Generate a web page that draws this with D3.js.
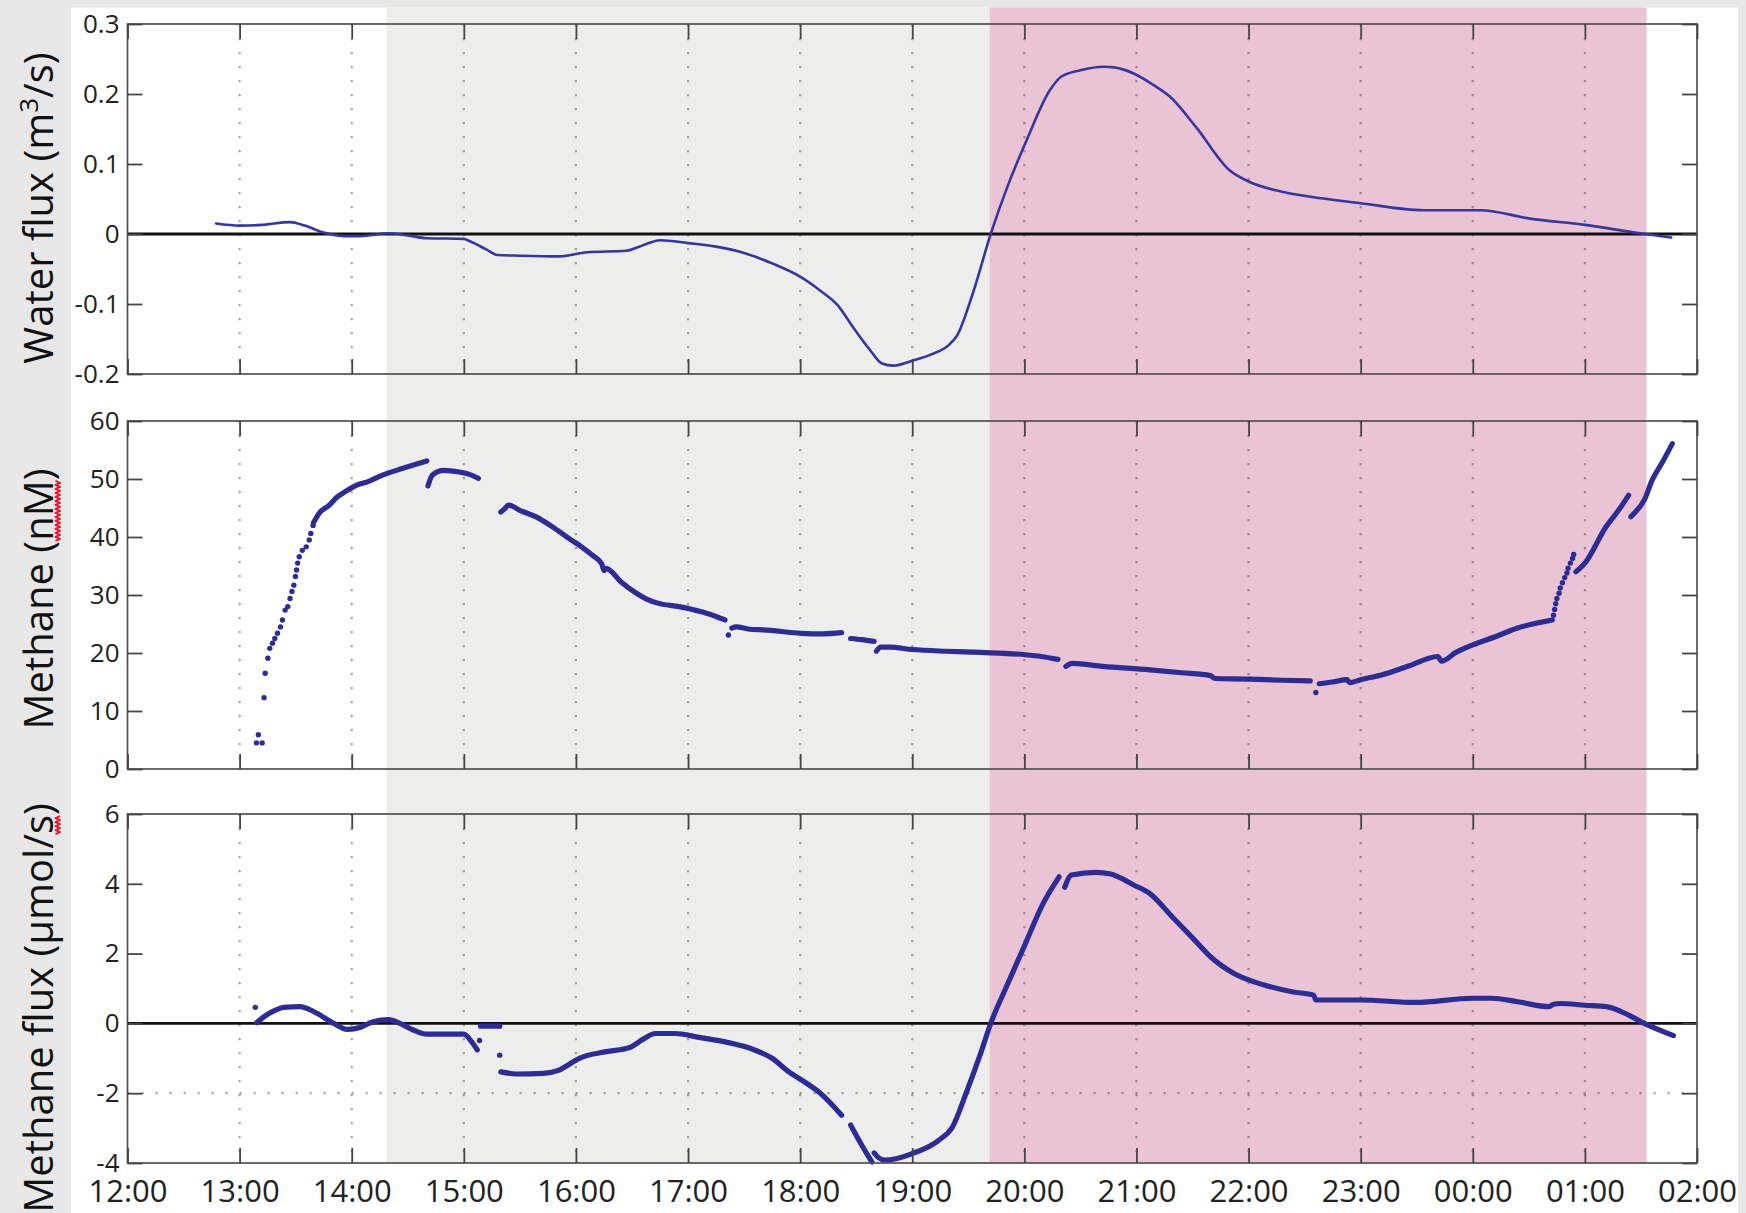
<!DOCTYPE html>
<html>
<head>
<meta charset="utf-8">
<script src="https://cdn.jsdelivr.net/npm/d3@7"></script>
<style>
  html, body { margin: 0; padding: 0; background: #e7e7e7; }
  svg { display: block; font-family: "Open Sans", "Noto Sans", sans-serif; }
</style>
</head>
<body>
<svg id="chart" width="1746" height="1213"></svg>
<script>
// ---- time axis (clock hours, continuing past midnight: 25 = 01:00) ----
const hourTicks  = [12, 13, 14, 15, 16, 17, 18, 19, 20, 21, 22, 23, 24, 25, 26];
const hourLabels = ["12:00", "13:00", "14:00", "15:00", "16:00", "17:00", "18:00", "19:00",
                    "20:00", "21:00", "22:00", "23:00", "00:00", "01:00", "02:00"];

// ---- shaded tidal phases ----
const phaseStart = [14.31, 19.69];
const phaseEnd   = [19.69, 25.55];

// ---- y ticks ----
const waterTicks   = [-0.2, -0.1, 0, 0.1, 0.2, 0.3];
const waterLabels  = ["-0.2", "-0.1", "0", "0.1", "0.2", "0.3"];
const methaneTicks  = [0, 10, 20, 30, 40, 50, 60];
const methaneLabels = ["0", "10", "20", "30", "40", "50", "60"];
const fluxTicks  = [-4, -2, 0, 2, 4, 6];
const fluxLabels = ["-4", "-2", "0", "2", "4", "6"];

// ---- water flux (m3/s) ----
const waterTime = [12.79, 13.00, 13.20, 13.45, 13.58, 13.75, 13.93, 14.08, 14.33, 14.50, 14.67, 15.00,
  15.05, 15.20, 15.30, 15.50, 15.85, 16.10, 16.45, 16.55, 16.65, 16.75, 17.00, 17.25, 17.50, 17.75,
  18.00, 18.18, 18.33, 18.48, 18.62, 18.73, 18.83, 19.00, 19.17, 19.33, 19.40, 19.54, 19.70, 19.85,
  20.02, 20.23, 20.33, 20.50, 20.71, 20.80, 20.98, 21.15, 21.30, 21.53, 21.83, 22.00, 22.31, 22.65,
  23.00, 23.56, 24.07, 24.51, 25.00, 25.49, 25.77];
const waterFlux = [0.015, 0.012, 0.013, 0.017, 0.012, 0.002, -0.003, -0.003, 0.001, -0.002, -0.006, -0.007,
  -0.010, -0.022, -0.030, -0.031, -0.032, -0.026, -0.024, -0.019, -0.013, -0.009, -0.013, -0.018, -0.027, -0.042,
  -0.061, -0.081, -0.101, -0.135, -0.165, -0.185, -0.188, -0.181, -0.172, -0.158, -0.145, -0.085, 0.0, 0.068,
  0.134, 0.206, 0.225, 0.234, 0.239, 0.238, 0.229, 0.213, 0.196, 0.153, 0.091, 0.075, 0.060, 0.051,
  0.044, 0.034, 0.034, 0.022, 0.013, 0.001, -0.005];

// ---- methane concentration (nM): continuous runs, null = gap ----
const methaneTime = [
  13.66, 13.71, 13.80, 13.87, 13.94, 14.04, 14.14, 14.28, 14.45, 14.55, 14.67, null,
  14.68, 14.72, 14.82, 14.96, 15.05, 15.13, null,
  15.33, 15.36, 15.40, 15.50, 15.64, 15.81, 15.95, 16.05, 16.15, 16.23, 16.25, 16.27, 16.40, 16.54,
  16.63, 16.73, 16.92, 17.12, 17.25, 17.33, null,
  17.39, 17.43, 17.55, 17.67, 18.01, 18.20, 18.37, null,
  18.45, 18.55, 18.66, null,
  18.68, 18.72, 18.80, 19.00, 19.30, 19.61, 20.01, 20.15, 20.30, null,
  20.37, 20.43, 20.70, 21.12, 21.40, 21.66, 21.70, 22.01, 22.30, 22.55, null,
  22.63, 22.75, 22.88, 22.90, 23.00, 23.20, 23.42, 23.69, 23.72, 23.85, 24.00, 24.20, 24.40, 24.71, null,
  24.92, 25.00, 25.19, 25.30, 25.39, null,
  25.41, 25.45, 25.53, 25.60, 25.70, 25.78];
const methaneConc = [
  42.5, 44.1, 45.5, 46.9, 47.8, 48.9, 49.5, 50.7, 51.8, 52.4, 53.1, null,
  48.8, 50.7, 51.5, 51.2, 50.8, 50.1, null,
  44.3, 44.8, 45.5, 44.6, 43.5, 41.5, 39.6, 38.3, 36.8, 35.4, 34.2, 34.6, 32.3, 30.3,
  29.3, 28.6, 28.0, 27.1, 26.3, 25.7, null,
  24.3, 24.5, 24.1, 24.0, 23.4, 23.3, 23.5, null,
  22.5, 22.3, 22.0, null,
  20.3, 21.0, 21.0, 20.6, 20.3, 20.1, 19.7, 19.4, 18.9, null,
  17.7, 18.2, 17.7, 17.1, 16.6, 16.1, 15.6, 15.5, 15.3, 15.2, null,
  14.7, 15.0, 15.4, 14.9, 15.4, 16.3, 17.7, 19.4, 18.6, 20.1, 21.4, 22.8, 24.3, 25.7, null,
  34.0, 35.5, 41.8, 44.6, 47.2, null,
  43.5, 44.3, 46.4, 49.8, 53.2, 56.1];
// sparse samples drawn as single dots
const methaneDotTime = [13.150, 13.167, 13.201, 13.218, 13.228, 13.252, 13.269, 13.293, 13.314, 13.338,
  13.365, 13.382, 13.406, 13.430, 13.450, 13.467, 13.484, 13.498, 13.508, 13.518, 13.532, 13.559,
  13.594, 13.621, 13.635, 13.655, 17.36, 22.60,
  24.72, 24.73, 24.74, 24.75, 24.77, 24.78, 24.80, 24.82, 24.84, 24.85, 24.87, 24.89, 24.90];
const methaneDotConc = [4.5, 5.9, 4.5, 12.3, 16.5, 19.1, 20.8, 21.7, 22.5, 23.4,
  24.5, 25.7, 27.4, 28.0, 29.4, 30.6, 31.7, 33.2, 34.3, 35.5, 36.6, 37.7,
  38.3, 39.5, 40.6, 42.0, 23.1, 13.2,
  26.5, 27.5, 28.5, 29.4, 30.3, 31.2, 32.1, 33.0, 33.8, 34.6, 35.5, 36.3, 37.0];

// ---- methane flux (umol/s): continuous runs, null = gap ----
const fluxTime = [
  13.15, 13.24, 13.32, 13.39, 13.54, 13.62, 13.69, 13.84, 13.96, 14.08, 14.19, 14.33, 14.43, 14.55,
  14.67, 15.00, 15.07, 15.12, null,
  15.15, 15.32, null,
  15.33, 15.47, 15.71, 15.85, 15.90, 16.03, 16.27, 16.48, 16.60, 16.71, 16.88, 17.10, 17.36, 17.56,
  17.75, 17.90, 18.05, 18.18, 18.37, null,
  18.45, 18.55, 18.64, null,
  18.66, 18.70, 18.76, 19.00, 19.24, 19.36, 19.48, 19.61, 19.70, 19.84, 20.01, 20.16, 20.31, null,
  20.36, 20.42, 20.64, 20.77, 20.98, 21.12, 21.32, 21.50, 21.66, 21.87, 22.14, 22.40, 22.58, 22.60,
  23.00, 23.49, 24.00, 24.17, 24.40, 24.68, 24.72, 24.78, 25.00, 25.19, 25.39, 25.53, 25.79];
const fluxValue = [
  0.02, 0.24, 0.38, 0.46, 0.48, 0.40, 0.29, 0.00, -0.17, -0.11, 0.05, 0.11, 0.00, -0.19,
  -0.31, -0.31, -0.53, -0.76, null,
  -0.08, -0.08, null,
  -1.39, -1.45, -1.43, -1.34, -1.25, -1.00, -0.81, -0.69, -0.45, -0.29, -0.29, -0.40, -0.55, -0.72,
  -1.00, -1.39, -1.70, -2.00, -2.63, null,
  -2.91, -3.49, -3.97, null,
  -3.71, -3.85, -3.92, -3.73, -3.34, -2.96, -2.00, -0.86, 0.00, 1.05, 2.29, 3.39, 4.20, null,
  3.90, 4.25, 4.33, 4.28, 3.96, 3.72, 3.05, 2.45, 1.91, 1.43, 1.10, 0.90, 0.81, 0.67,
  0.67, 0.60, 0.72, 0.72, 0.62, 0.48, 0.55, 0.57, 0.52, 0.48, 0.24, 0.00, -0.35];
const fluxDotTime  = [13.14, 15.14, 15.32];
const fluxDotValue = [0.46, -0.49, -0.91];

// ------------------------------------------------------------------
const svg = d3.select("#chart");
const W = 1746, H = 1213;
const INK = "#2c2c92";

svg.append("rect").attr("width", W).attr("height", H).attr("fill", "#e7e7e7");
svg.append("rect").attr("x", 71).attr("y", 7.5).attr("width", 1738 - 71).attr("height", H - 7.5)
  .attr("fill", "#ffffff");

const x = d3.scaleLinear().domain([12, 26]).range([127.5, 1697]);
const plotTop = 7.5, plotBottom = 1163;

// tidal phase shading behind all three panels
const phaseFill = ["#edeeec", "#eac4d5"];
svg.append("g").selectAll("rect")
  .data(phaseStart.map((s, i) => ({ s, e: phaseEnd[i], fill: phaseFill[i] })))
  .join("rect")
  .attr("x", d => x(d.s)).attr("width", d => x(d.e) - x(d.s))
  .attr("y", plotTop).attr("height", plotBottom - plotTop)
  .attr("fill", d => d.fill);

const zip = (t, v) => t.map((d, i) => [d, v[i]]);

const panels = [
  { top: 24, bottom: 374, domain: [-0.2, 0.3], ticks: waterTicks, labels: waterLabels, zero: true,
    hgrid: [], titleY: 208 },
  { top: 421, bottom: 769, domain: [0, 60], ticks: methaneTicks, labels: methaneLabels, zero: false,
    hgrid: [], titleY: 599 },
  { top: 814, bottom: 1163, domain: [-4, 6], ticks: fluxTicks, labels: fluxLabels, zero: true,
    hgrid: [-2], titleY: 1008 }
];
panels.forEach(p => { p.y = d3.scaleLinear().domain(p.domain).range([p.bottom, p.top]); });

const gridHours = hourTicks.slice(1, -1);

panels.forEach((p, pi) => {
  const g = svg.append("g");
  // dotted grid
  g.selectAll(".vg").data(gridHours).join("line")
    .attr("x1", d => x(d)).attr("x2", d => x(d))
    .attr("y1", p.top).attr("y2", p.bottom)
    .attr("stroke", "rgba(40,40,40,0.42)").attr("stroke-width", 2.2)
    .attr("stroke-dasharray", "2.2 11.8");
  g.selectAll(".hg").data(p.hgrid).join("line")
    .attr("x1", x.range()[0]).attr("x2", x.range()[1])
    .attr("y1", d => p.y(d)).attr("y2", d => p.y(d))
    .attr("stroke", "rgba(40,40,40,0.42)").attr("stroke-width", 2.2)
    .attr("stroke-dasharray", "2.2 11.8");
  if (p.zero) {
    g.append("line")
      .attr("x1", x.range()[0]).attr("x2", x.range()[1])
      .attr("y1", p.y(0)).attr("y2", p.y(0))
      .attr("stroke", "#111").attr("stroke-width", 2.8);
  }
  p.g = g;
});

// panel 1: water flux line
{
  const p = panels[0];
  const line = d3.line().x(d => x(d[0])).y(d => p.y(d[1])).curve(d3.curveMonotoneX);
  p.g.append("path").attr("d", line(zip(waterTime, waterFlux)))
    .attr("fill", "none").attr("stroke", "#36369c").attr("stroke-width", 2.6)
    .attr("stroke-linejoin", "round").attr("stroke-linecap", "round");
}

// dense sample runs are drawn as thick rounded strokes, sparse samples as dots
function drawSamples(p, t, v, dt, dv) {
  const line = d3.line().defined(d => d[1] != null)
    .x(d => x(d[0])).y(d => p.y(d[1])).curve(d3.curveMonotoneX);
  p.g.append("path").attr("d", line(zip(t, v)))
    .attr("fill", "none").attr("stroke", INK).attr("stroke-width", 5.2)
    .attr("stroke-linejoin", "round").attr("stroke-linecap", "round");
  p.g.selectAll("circle").data(zip(dt, dv)).join("circle")
    .attr("cx", d => x(d[0])).attr("cy", d => p.y(d[1])).attr("r", 2.7)
    .attr("fill", INK);
}
drawSamples(panels[1], methaneTime, methaneConc, methaneDotTime, methaneDotConc);
drawSamples(panels[2], fluxTime, fluxValue, fluxDotTime, fluxDotValue);

// frames and axes
panels.forEach((p, pi) => {
  const g = svg.append("g");
  const [x0, x1] = x.range();
  g.append("rect").attr("x", x0).attr("y", p.top).attr("width", x1 - x0).attr("height", p.bottom - p.top)
    .attr("fill", "none").attr("stroke", "#505050").attr("stroke-width", 1.7);

  const style = sel => {
    sel.select(".domain").remove();
    sel.attr("font-family", null).attr("color", "#444");
    sel.selectAll(".tick line").attr("stroke-width", 1.8);
    sel.selectAll(".tick text").attr("fill", "#222");
  };

  g.append("g").attr("transform", `translate(${x0},0)`)
    .call(d3.axisLeft(p.y).tickValues(p.ticks).tickFormat((d, i) => p.labels[i]).tickSize(-15).tickPadding(8))
    .call(style).attr("font-size", 26);
  g.append("g").attr("transform", `translate(${x1},0)`)
    .call(d3.axisRight(p.y).tickValues(p.ticks).tickFormat("").tickSize(-15))
    .call(style);
  g.append("g").attr("transform", `translate(0,${p.top})`)
    .call(d3.axisTop(x).tickValues(hourTicks).tickFormat("").tickSize(-15))
    .call(style);
  const bottomAxis = d3.axisBottom(x).tickValues(hourTicks).tickSize(-15)
    .tickFormat(pi === 2 ? (d, i) => hourLabels[i] : "").tickPadding(17);
  g.append("g").attr("transform", `translate(0,${p.bottom})`)
    .call(bottomAxis).call(style).attr("font-size", 31);
});

// y-axis titles
{
  const g = svg.append("g").attr("transform", `translate(53,${panels[0].titleY}) rotate(-90)`);
  const t = g.append("text").attr("text-anchor", "middle").attr("font-size", 40).attr("fill", "#111");
  t.append("tspan").text("Water flux (m");
  t.append("tspan").attr("font-size", 26).attr("dy", -15).text("3");
  t.append("tspan").attr("dy", 15).text("/s)");
}
function titleFor(text, cy) {
  const g = svg.append("g").attr("transform", `translate(53,${cy}) rotate(-90)`);
  const t = g.append("text").attr("text-anchor", "middle").attr("font-size", 40).attr("fill", "#111").text(text);
  return { g, t };
}
const methaneTitle = titleFor("Methane (nM)", panels[1].titleY);
const fluxTitle = titleFor("Methane flux (µmol/s)", panels[2].titleY);

// red wavy proofing marks under flagged words
function squiggle(item, i0, i1) {
  const node = item.t.node();
  const a = node.getStartPositionOfChar(i0).x;
  const b = node.getEndPositionOfChar(i1).x;
  let d = `M${a},2.5`, up = false;
  for (let s = a + 2; s <= b + 0.01; s += 2) { d += `L${s},${up ? 2.5 : 7}`; up = !up; }
  item.g.append("path").attr("d", d).attr("fill", "none")
    .attr("stroke", "#e3172f").attr("stroke-width", 1.9).attr("stroke-linejoin", "round");
}
document.fonts.ready.then(() => {
  squiggle(methaneTitle, 9, 10);
  squiggle(fluxTitle, 19, 19);
});
</script>
</body>
</html>
